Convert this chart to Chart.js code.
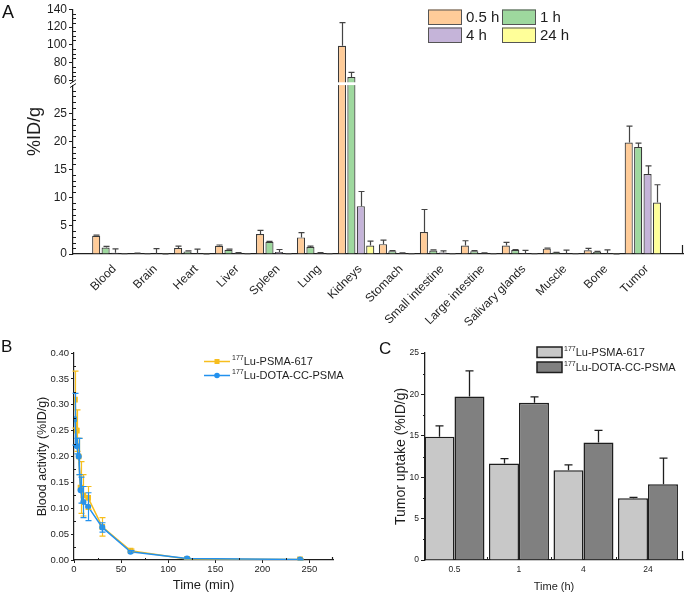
<!DOCTYPE html>
<html>
<head>
<meta charset="utf-8">
<title>Biodistribution</title>
<script src="https://cdn.jsdelivr.net/npm/chart.js@4.4.1/dist/chart.umd.min.js"></script>
<style>
  body { margin: 0; background: #fff; }
  #page { position: relative; width: 685px; height: 594px; overflow: hidden; font-family: "Liberation Sans", Arial, sans-serif; }
  .panel { position: absolute; }
  .tag { position: absolute; line-height: 1; color: #111; }
</style>
</head>
<body>
<div id="page">
  <canvas id="chartA" class="panel" width="685" height="330" style="left:0;top:0"></canvas>
  <canvas id="chartB" class="panel" width="345" height="264" style="left:0;top:330px"></canvas>
  <canvas id="chartC" class="panel" width="340" height="264" style="left:345px;top:330px"></canvas>
  <div class="tag" style="left:2px;top:3px;font-size:18px">A</div>
  <div class="tag" style="left:1px;top:338px;font-size:17px">B</div>
  <div class="tag" style="left:379px;top:340px;font-size:17px">C</div>
</div>
<script>
// ---- A: biodistribution (%ID/g)
const organs = ['Blood', 'Brain', 'Heart', 'Liver', 'Spleen', 'Lung', 'Kidneys', 'Stomach',
  'Small intestine', 'Large intestine', 'Salivary glands', 'Muscle', 'Bone', 'Tumor'];
const timePoints = ['0.5 h', '1 h', '4 h', '24 h'];
const uptake05h = [3.25, 0.10, 1.05, 1.45, 3.55, 2.95, 99.0, 1.75, 3.90, 1.50, 1.50, 0.95, 0.65, 19.8];
const uptake05hSd = [0.10, 0.05, 0.35, 0.15, 0.65, 0.85, 26.0, 0.70, 4.00, 0.85, 0.55, 0.10, 0.35, 2.9];
const uptake1h = [1.15, 0.05, 0.45, 0.75, 2.15, 1.25, 64.0, 0.50, 0.60, 0.50, 0.70, 0.25, 0.35, 19.0];
const uptake1hSd = [0.20, 0.03, 0.10, 0.10, 0.10, 0.15, 5.0, 0.10, 0.15, 0.10, 0.10, 0.05, 0.10, 0.7];
const uptake4h = [0.20, 0.05, 0.05, 0.20, 0.35, 0.20, 8.5, 0.15, 0.25, 0.10, 0.15, 0.10, 0.05, 14.2];
const uptake4hSd = [0.70, 0.90, 0.80, 0.05, 0.45, 0.05, 2.6, 0.05, 0.30, 0.10, 0.50, 0.60, 0.70, 1.45];
const uptake24h = [0.05, 0.02, 0.02, 0.05, 0.05, 0.05, 1.5, 0.05, 0.05, 0.05, 0.05, 0.05, 0.02, 9.15];
const uptake24hSd = [0.02, 0.01, 0.01, 0.02, 0.02, 0.02, 0.8, 0.02, 0.02, 0.02, 0.02, 0.02, 0.01, 3.15];
const yTicksA = [0, 5, 10, 15, 20, 25, 60, 80, 100, 120, 140];

// ---- B: blood activity
const isotope = '177';
const name617 = 'Lu-PSMA-617';
const nameCC = 'Lu-DOTA-CC-PSMA';
const bloodTimes = [1, 3, 5, 7, 10, 15, 30, 60, 120, 240];
const blood617 = [0.31, 0.25, 0.20, 0.14, 0.125, 0.12, 0.064, 0.018, 0.002, 0.001];
const blood617Sd = [0.055, 0.04, 0.035, 0.05, 0.04, 0.022, 0.018, 0.003, 0.001, 0.001];
const bloodCC = [0.272, 0.22, 0.20, 0.135, 0.112, 0.103, 0.063, 0.016, 0.003, 0.001];
const bloodCCSd = [0.05, 0.015, 0.035, 0.025, 0.03, 0.027, 0.009, 0.002, 0.001, 0.001];
const xTicksB = [0, 50, 100, 150, 200, 250];
const yTicksB = [0, 0.05, 0.10, 0.15, 0.20, 0.25, 0.30, 0.35, 0.40];

// ---- C: tumor uptake
const tumorTimes = ['0.5', '1', '4', '24'];
const tumor617 = [14.9, 11.65, 10.85, 7.45];
const tumor617Sd = [1.3, 0.6, 0.65, 0.12];
const tumorCC = [19.75, 19.0, 14.2, 9.15];
const tumorCCSd = [3.1, 0.7, 1.45, 3.15];
const yTicksC = [0, 5, 10, 15, 20, 25];

const FONT = '"Liberation Sans", Arial, sans-serif';
const INK = '#1e1e1e';
Chart.defaults.font.family = FONT;
Chart.defaults.color = INK;
Chart.defaults.animation = false;
Chart.defaults.plugins.legend.display = false;
Chart.defaults.plugins.tooltip.enabled = false;

// y axis of A is cut between 30 and 58
const Y_LOW = 30, Y_HIGH = 58, LOW_FRAC = 0.69, GAP_FRAC = 0.0115;
class BrokenLinear extends Chart.LinearScale {
    _breaks() {
        const h = this.bottom - this.top;
        const lowTop = this.bottom - LOW_FRAC * h;
        return {lowTop, highBottom: lowTop - GAP_FRAC * h};
    }
    getPixelForValue(v) {
        const {lowTop, highBottom} = this._breaks();
        if (v <= Y_LOW) return this.bottom - v / Y_LOW * (this.bottom - lowTop);
        if (v >= Y_HIGH) return highBottom - (v - Y_HIGH) / (this.max - Y_HIGH) * (highBottom - this.top);
        return lowTop - (v - Y_LOW) / (Y_HIGH - Y_LOW) * (lowTop - highBottom);
    }
    getValueForPixel(p) {
        const {lowTop, highBottom} = this._breaks();
        if (p >= lowTop) return (this.bottom - p) / (this.bottom - lowTop) * Y_LOW;
        if (p <= highBottom) return Y_HIGH + (highBottom - p) / (highBottom - this.top) * (this.max - Y_HIGH);
        return Y_LOW + (lowTop - p) / (lowTop - highBottom) * (Y_HIGH - Y_LOW);
    }
}
BrokenLinear.id = 'brokenLinear';
BrokenLinear.defaults = Chart.LinearScale.defaults;
Chart.register(BrokenLinear);

const fixTicks = list => s => { s.ticks = list.map(v => ({value: v})); };
const fixSize = size => s => { if (s.isHorizontal()) s.height = size; else s.width = size; };

// error bars read from dataset.sd
const errorBars = {
    id: 'errorBars',
    afterDatasetsDraw(chart) {
        const ctx = chart.ctx;
        chart.data.datasets.forEach((ds, di) => {
            if (!ds.sd) return;
            const meta = chart.getDatasetMeta(di);
            const ys = chart.scales[meta.yAxisID];
            ctx.save();
            ctx.strokeStyle = ds.errColor || INK;
            ctx.lineWidth = ds.errWidth || 1;
            meta.data.forEach((el, i) => {
                const v = ds.data[i].y, e = ds.sd[i];
                const x = Math.round(el.x) + 0.5;
                const top = ys.getPixelForValue(v + e);
                const bot = ds.twoSided ? ys.getPixelForValue(v - e) : ys.getPixelForValue(v);
                const c = ds.capHalf || 3;
                ctx.beginPath();
                ctx.moveTo(x, bot); ctx.lineTo(x, top);
                ctx.moveTo(x - c, top); ctx.lineTo(x + c, top);
                if (ds.twoSided) { ctx.moveTo(x - c, bot); ctx.lineTo(x + c, bot); }
                ctx.stroke();
            });
            ctx.restore();
        });
    }
};

// minor ticks + tick at the end of the x axis
const axisDeco = {
    id: 'axisDeco',
    afterDraw(chart, args, opts) {
        const ctx = chart.ctx;
        ctx.save();
        ctx.strokeStyle = INK;
        ctx.lineWidth = 1;
        (opts.minor || []).forEach(m => {
            const s = chart.scales[m.axis];
            m.values.forEach(v => {
                const p = Math.round(s.getPixelForValue(v)) + 0.5;
                ctx.beginPath();
                if (s.isHorizontal()) { ctx.moveTo(p, s.top); ctx.lineTo(p, s.top - m.len); }
                else { ctx.moveTo(s.right, p); ctx.lineTo(s.right + m.len, p); }
                ctx.stroke();
            });
        });
        if (opts.endTick) {
            const ca = chart.chartArea;
            ctx.lineWidth = 1.2;
            ctx.beginPath();
            ctx.moveTo(ca.right - 0.5, ca.bottom);
            ctx.lineTo(ca.right - 0.5, ca.bottom - opts.endTick);
            ctx.stroke();
        }
        ctx.restore();
    }
};

const breakMark = {
    id: 'breakMark',
    afterDraw(chart) {
        const ctx = chart.ctx, ca = chart.chartArea, ys = chart.scales.y;
        const y1 = ys.getPixelForValue(Y_HIGH), y2 = ys.getPixelForValue(Y_LOW);
        ctx.save();
        ctx.fillStyle = '#fff';
        ctx.fillRect(ca.left - 5, y1, ca.right - ca.left + 5, y2 - y1);
        ctx.strokeStyle = INK;
        ctx.lineWidth = 1;
        ctx.beginPath();
        ctx.moveTo(ca.left - 3, y1 + 1.5); ctx.lineTo(ca.left + 3, y1 - 2.5);
        ctx.moveTo(ca.left - 3, y2 + 2.5); ctx.lineTo(ca.left + 3, y2 - 1.5);
        ctx.stroke();
        ctx.restore();
    }
};

function supLabel(ctx, x, y, text, size) {
    ctx.textAlign = 'left';
    ctx.textBaseline = 'middle';
    ctx.fillStyle = INK;
    ctx.font = Math.round(size * 0.68) + 'px ' + FONT;
    ctx.fillText(text.slice(0, 3), x, y - size * 0.3);
    x += ctx.measureText(text.slice(0, 3)).width;
    ctx.font = size + 'px ' + FONT;
    ctx.fillText(text.slice(3), x, y);
}

const legendA = {
    id: 'legendA',
    afterDraw(chart) {
        const ctx = chart.ctx;
        const slots = [[428, 9.5], [502, 9.5], [428, 27.5], [502, 27.5]];
        chart.data.datasets.forEach((ds, k) => {
            const [x, y] = slots[k];
            ctx.fillStyle = ds.backgroundColor;
            ctx.fillRect(x, y, 34, 15.5);
            ctx.strokeStyle = '#555';
            ctx.lineWidth = 1;
            ctx.strokeRect(x + 0.5, y + 0.5, 33, 14.5);
            ctx.fillStyle = INK;
            ctx.font = '15px ' + FONT;
            ctx.textAlign = 'left';
            ctx.textBaseline = 'middle';
            ctx.fillText(ds.label, x + 38, y + 8.5);
        });
    }
};

const legendB = {
    id: 'legendB',
    afterDraw(chart) {
        const ctx = chart.ctx;
        chart.data.datasets.forEach((ds, k) => {
            const y = 31.5 + k * 14;
            ctx.save();
            ctx.strokeStyle = ds.borderColor;
            ctx.lineWidth = 1.5;
            ctx.beginPath(); ctx.moveTo(204, y); ctx.lineTo(230, y); ctx.stroke();
            ctx.fillStyle = ds.borderColor;
            if (ds.pointStyle === 'rect') ctx.fillRect(214.5, y - 2.5, 5, 5);
            else { ctx.beginPath(); ctx.arc(217, y, 2.8, 0, Math.PI * 2); ctx.fill(); }
            ctx.restore();
            supLabel(ctx, 232, y, ds.label, 11);
        });
    }
};

const legendC = {
    id: 'legendC',
    afterDraw(chart) {
        const ctx = chart.ctx;
        chart.data.datasets.forEach((ds, k) => {
            const y = 17 + k * 15;
            ctx.fillStyle = ds.backgroundColor;
            ctx.fillRect(192, y, 25, 10.5);
            ctx.strokeStyle = INK;
            ctx.lineWidth = 1.5;
            ctx.strokeRect(192, y, 25, 10.5);
            supLabel(ctx, 219, y + 5.5, ds.label, 11);
        });
    }
};

// ---------------- A
const seriesA = [uptake05h, uptake1h, uptake4h, uptake24h];
const sdA = [uptake05hSd, uptake1hSd, uptake4hSd, uptake24hSd];
const fillsA = ['#FFCC99', '#9ED89E', '#C5B4D9', '#FFFF99'];
const minorLowA = [], minorHighA = [];
for (let v = 1; v < Y_LOW; v++) if (v % 5) minorLowA.push(v);
for (let v = 65; v < 140; v += 5) if (v % 20) minorHighA.push(v);

new Chart(document.getElementById('chartA'), {
    type: 'bar',
    data: {
        datasets: seriesA.map((vals, k) => ({
            label: timePoints[k],
            data: vals.map((v, i) => ({x: i, y: v})),
            sd: sdA[k],
            errColor: '#444',
            errWidth: 1.2,
            capHalf: 3,
            backgroundColor: fillsA[k],
            borderColor: '#3a3a3a',
            borderWidth: 1.2,
            categoryPercentage: 0.92,
            barPercentage: 0.86
        }))
    },
    options: {
        responsive: false,
        devicePixelRatio: 1,
        layout: {padding: {top: 7, right: 2, left: 0, bottom: 0}},
        scales: {
            x: {
                type: 'linear', min: -0.911, max: 13.98, offset: false,
                afterBuildTicks: fixTicks(organs.map((_, i) => i)),
                afterFit: fixSize(76),
                grid: {display: false, drawTicks: false},
                border: {display: true, color: INK, width: 1.2},
                ticks: {autoSkip: false, minRotation: 45, maxRotation: 45, padding: 8, labelOffset: 4,
                    font: {size: 12}, color: INK, callback: v => organs[v]}
            },
            y: {
                type: 'brokenLinear', min: 0, max: 140,
                afterBuildTicks: fixTicks(yTicksA),
                afterFit: fixSize(73),
                grid: {drawOnChartArea: false, tickLength: 4, color: INK},
                border: {display: true, color: INK, width: 1.2},
                ticks: {padding: 2, font: {size: 12}, color: INK},
                title: {display: true, text: '%ID/g', font: {size: 18}, padding: {top: 24}, color: INK}
            }
        },
        plugins: {
            axisDeco: {minor: [{axis: 'y', values: minorLowA, len: 3}, {axis: 'y', values: minorHighA, len: 3}], endTick: 9}
        }
    },
    plugins: [errorBars, axisDeco, breakMark, legendA]
});

// ---------------- B
const YEL = '#F7BE1E', BLU = '#2291EE';
const minorXB = [25, 75, 125, 175, 225];
const minorYB = [0.025, 0.075, 0.125, 0.175, 0.225, 0.275, 0.325, 0.375];

new Chart(document.getElementById('chartB'), {
    type: 'line',
    data: {
        datasets: [
            {label: isotope + name617, data: bloodTimes.map((t, i) => ({x: t, y: blood617[i]})), sd: blood617Sd,
                twoSided: true, errColor: YEL, errWidth: 1.2, capHalf: 3,
                borderColor: YEL, backgroundColor: YEL, borderWidth: 1.5, pointStyle: 'rect', pointRadius: 3,
                tension: 0, order: 1},
            {label: isotope + nameCC, data: bloodTimes.map((t, i) => ({x: t, y: bloodCC[i]})), sd: bloodCCSd,
                twoSided: true, errColor: BLU, errWidth: 1.2, capHalf: 3,
                borderColor: BLU, backgroundColor: BLU, borderWidth: 1.5, pointStyle: 'circle', pointRadius: 2.3,
                tension: 0, order: 0}
        ]
    },
    options: {
        responsive: false,
        devicePixelRatio: 1,
        layout: {padding: {top: 23, right: 12, left: 0, bottom: 0}},
        scales: {
            x: {
                type: 'linear', min: 0, max: 275,
                afterBuildTicks: fixTicks(xTicksB),
                afterFit: fixSize(34),
                grid: {drawOnChartArea: false, tickLength: 3, color: INK},
                border: {display: true, color: INK, width: 1.2},
                ticks: {padding: 1, font: {size: 9.5}, color: INK},
                title: {display: true, text: 'Time (min)', font: {size: 13}, padding: {bottom: 0.5}, color: INK}
            },
            y: {
                type: 'linear', min: 0, max: 0.4,
                afterBuildTicks: fixTicks(yTicksB),
                afterFit: fixSize(74),
                grid: {drawOnChartArea: false, tickLength: 3, color: INK},
                border: {display: true, color: INK, width: 1.2},
                ticks: {padding: 2, font: {size: 9.5}, color: INK, callback: v => v.toFixed(2)},
                title: {display: true, text: 'Blood activity (%ID/g)', font: {size: 12.5}, padding: {top: 35}, color: INK}
            }
        },
        plugins: {
            axisDeco: {minor: [{axis: 'x', values: minorXB, len: 2}, {axis: 'y', values: minorYB, len: 2}], endTick: 3}
        }
    },
    plugins: [errorBars, axisDeco, legendB]
});

// ---------------- C
new Chart(document.getElementById('chartC'), {
    type: 'bar',
    data: {
        datasets: [
            {label: isotope + name617, data: tumor617.map((v, i) => ({x: i, y: v})), sd: tumor617Sd,
                errColor: INK, errWidth: 1.3, capHalf: 4,
                backgroundColor: '#C8C8C8', borderColor: INK, borderWidth: 1.5,
                categoryPercentage: 0.93, barPercentage: 1},
            {label: isotope + nameCC, data: tumorCC.map((v, i) => ({x: i, y: v})), sd: tumorCCSd,
                errColor: INK, errWidth: 1.3, capHalf: 4,
                backgroundColor: '#808080', borderColor: INK, borderWidth: 1.5,
                categoryPercentage: 0.93, barPercentage: 1}
        ]
    },
    options: {
        responsive: false,
        devicePixelRatio: 1,
        layout: {padding: {top: 23, right: 2, left: 0, bottom: 0}},
        scales: {
            x: {
                type: 'linear', min: -0.457, max: 3.543, offset: false,
                afterBuildTicks: fixTicks(tumorTimes.map((_, i) => i)),
                afterFit: fixSize(34),
                grid: {display: false, drawTicks: false},
                border: {display: true, color: INK, width: 1.3},
                ticks: {padding: 5, font: {size: 8.5}, color: INK, callback: v => tumorTimes[v]},
                title: {display: true, text: 'Time (h)', font: {size: 11}, padding: {bottom: 0.5}, color: INK}
            },
            y: {
                type: 'linear', min: 0, max: 25,
                afterBuildTicks: fixTicks(yTicksC),
                afterFit: fixSize(80),
                grid: {drawOnChartArea: false, tickLength: 4, color: INK},
                border: {display: true, color: INK, width: 1.3},
                ticks: {padding: 2, font: {size: 8.5}, color: INK},
                title: {display: true, text: 'Tumor uptake (%ID/g)', font: {size: 14}, padding: {top: 48}, color: INK}
            }
        },
        plugins: {
            axisDeco: {minor: [{axis: 'x', values: [0.5, 1.5, 2.5], len: 3}, {axis: 'y', values: [2.5, 7.5, 12.5, 17.5, 22.5], len: -2}], endTick: 9}
        }
    },
    plugins: [errorBars, axisDeco, legendC]
});
</script>
</body>
</html>
